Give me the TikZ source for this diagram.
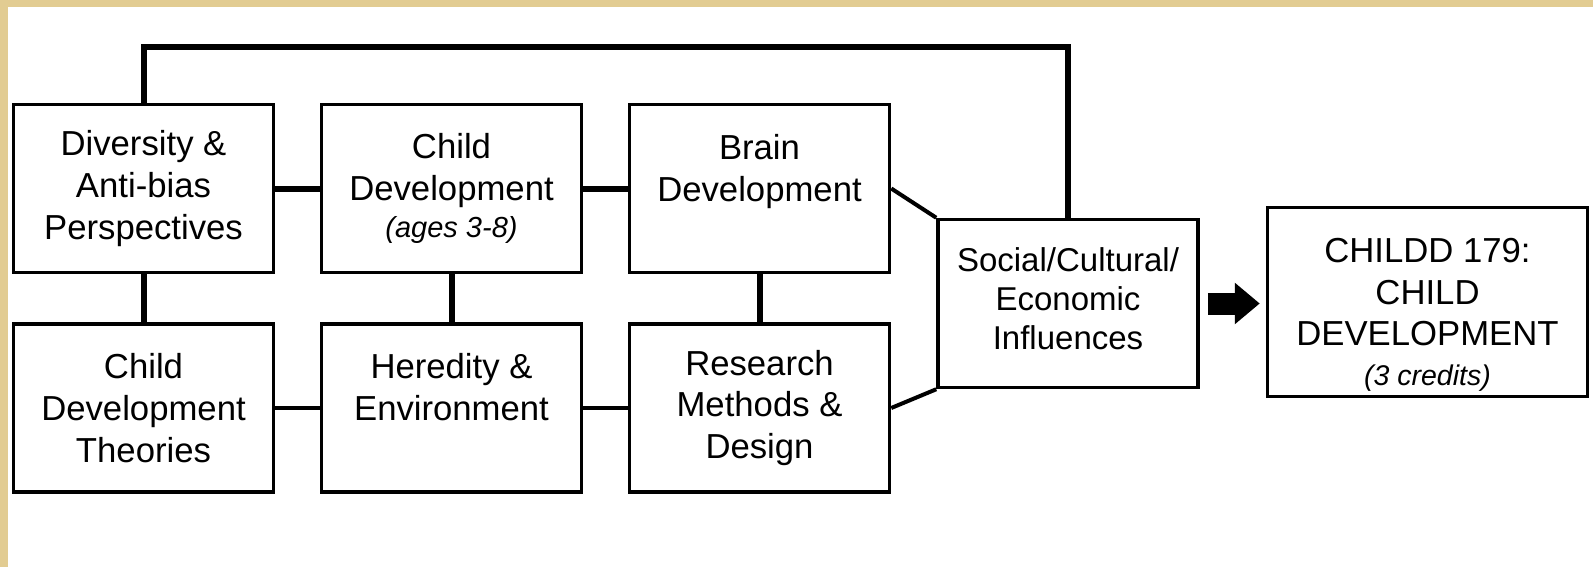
\documentclass[tikz,border=0pt]{standalone}
\usepackage{fontspec}
\setmainfont{Liberation Sans}
\usetikzlibrary{arrows.meta}
\definecolor{framecol}{RGB}{226,204,146}
\begin{document}
\begin{tikzpicture}[x=1pt,y=-1pt,
  box/.style={draw, line width=3.5pt, minimum width=260pt, minimum height=168pt,
    inner sep=0pt, align=center, font=\fontsize{34.7}{41.7}\selectfont},
  socbox/.style={box, font=\fontsize{33}{39}\selectfont},
  finalbox/.style={box, minimum width=320pt, minimum height=189pt},
  thicklink/.style={line width=6pt},
  thinlink/.style={line width=3.5pt},
  diaglink/.style={line width=4pt},
  bigarrow/.style={line width=22pt, -{Triangle[length=25pt,width=40pt]}}]
\useasboundingbox (0,0) rectangle (1593,567);
\fill[framecol] (0,0) rectangle (1593,7);
\fill[framecol] (0,0) rectangle (8,567);

\node[box] (b1) at (143.5,188.5) {Diversity \&\\Anti-bias\\Perspectives};
\node[box] (b2) at (451.5,188.5) {Child\\Development\\[-4pt]{\fontsize{29}{35}\selectfont\itshape (ages 3-8)}};
\node[box] (b3) at (759.5,188.5) {Brain\\Development\\\phantom{X}};
\node[box] (b4) at (143.5,408) {Child\\Development\\Theories};
\node[box] (b5) at (451.5,408) {Heredity \&\\Environment\\\phantom{X}};
\node[box] (b6) at (759.5,408) {Research\\Methods \&\\Design};
\node[socbox] (soc) at (1068,303.5) {Social/Cultural/\\Economic\\Influences\rule[-10pt]{0pt}{10pt}};
\node[finalbox] (fin) at (1427.5,302) {\rule{0pt}{50pt}CHILDD 179:\\CHILD\\DEVELOPMENT\\[-2pt]{\fontsize{28.5}{34}\selectfont\itshape (3 credits)}};

\coordinate (top) at (0,47);
\draw[thicklink] (b1.north) -- (b1.north |- top) -| (soc.north);
\draw[thicklink] (b1.east) -- (b2.west);
\draw[thicklink] (b2.east) -- (b3.west);
\draw[thicklink] (b1.south) -- (b4.north);
\draw[thicklink] (b2.south) -- (b5.north);
\draw[thicklink] (b3.south) -- (b6.north);
\draw[thinlink] (b4.east) -- (b5.west);
\draw[thinlink] (b5.east) -- (b6.west);
\draw[diaglink] (b3.east) -- (soc.north west);
\draw[diaglink] (b6.east) -- (soc.south west);
\draw[bigarrow, shorten <=8pt, shorten >=6pt] (soc.east) -- (soc.east -| fin.west);
\end{tikzpicture}
\end{document}
